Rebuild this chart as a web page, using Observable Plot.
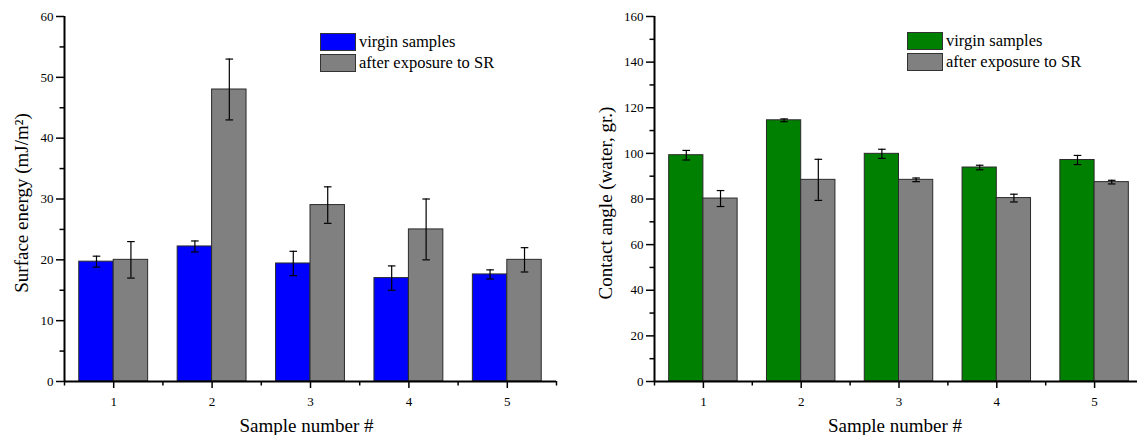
<!DOCTYPE html>
<html>
<head>
<meta charset="utf-8">
<script src="https://cdn.jsdelivr.net/npm/d3@7"></script>
<script src="https://cdn.jsdelivr.net/npm/@observablehq/plot@0.6"></script>
<style>
  html, body { margin: 0; padding: 0; background: white; }
  #wrap { position: relative; width: 1137px; height: 435px; overflow: hidden; background: white; font-family: "Liberation Serif", "Times New Roman", serif; }
  .panel { position: absolute; top: 0; }
  #wrap svg { max-width: none !important; font-family: "Liberation Serif", "Times New Roman", serif !important; font-size: 13px !important; }
  .legend { position: absolute; font-size: 16.5px; color: #000; }
  .legend .row { display: flex; align-items: center; height: 21px; }
  .legend .sw { width: 36px; height: 18px; border: 1px solid #333; box-sizing: border-box; margin-right: 3px; }
</style>
</head>
<body>
<div id="wrap">
  <div id="left" class="panel" style="left:0px; width:568px"></div>
  <div id="right" class="panel" style="left:568px; width:590px"></div>
  <div class="legend" style="left:320px; top:31px">
    <div class="row"><div class="sw" style="background:#0000ff"></div>virgin samples</div>
    <div class="row"><div class="sw" style="background:#808080"></div>after exposure to SR</div>
  </div>
  <div class="legend" style="left:907px; top:30px">
    <div class="row"><div class="sw" style="background:#008000"></div>virgin samples</div>
    <div class="row"><div class="sw" style="background:#808080"></div>after exposure to SR</div>
  </div>
</div>
<script>
const samples = [1, 2, 3, 4, 5];
const seriesNames = ["virgin samples", "after exposure to SR"];

const energyVirgin = [19.7, 22.2, 19.4, 17.0, 17.6];
const energyVirginErr = [0.9, 0.9, 2.0, 2.0, 0.75];
const energyExposed = [20.0, 48.0, 29.0, 25.0, 20.0];
const energyExposedErr = [3.0, 5.0, 3.0, 5.0, 2.0];

const angleVirgin = [99.2, 114.5, 99.8, 93.8, 97.1];
const angleVirginErr = [2.1, 0.6, 2.0, 1.0, 2.0];
const angleExposed = [80.2, 88.4, 88.4, 80.4, 87.4];
const angleExposedErr = [3.5, 9.0, 0.8, 1.7, 0.8];

const energyTicks = [0, 10, 20, 30, 40, 50, 60];
const energyMinor = [5, 15, 25, 35, 45, 55];
const angleTicks = [0, 20, 40, 60, 80, 100, 120, 140, 160];
const angleMinor = [10, 30, 50, 70, 90, 110, 130, 150];
const xMinor = [0.5, 1.5, 2.5, 3.5, 4.5, 5.5];

const barW = 0.35;

function buildRows(v, ve, e, ee) {
  const rows = [];
  samples.forEach((s, i) => {
    rows.push({sample: s, series: seriesNames[0], value: v[i], err: ve[i], off: -barW / 2});
    rows.push({sample: s, series: seriesNames[1], value: e[i], err: ee[i], off: barW / 2});
  });
  return rows;
}

const capSymbol = {
  draw(context, size) {
    const r = Math.sqrt(size / Math.PI);
    context.moveTo(-r, 0);
    context.lineTo(r, 0);
  }
};

function chart({rows, colors, yMax, ticks, minor, width, marginLeft, marginRight, yLabel, titleDx}) {
  return Plot.plot({
    width, height: 435,
    marginLeft, marginRight, marginTop: 16, marginBottom: 54,
    style: "font-family: 'Liberation Serif', 'Times New Roman', serif; font-size: 13px; color: #000; background: white; overflow: visible; max-width: none;",
    x: {domain: [0.5, 5.5], axis: null},
    y: {domain: [0, yMax], axis: null},
    color: {domain: seriesNames, range: colors},
    marks: [
      Plot.rectY(rows, {
        x1: d => d.sample + d.off - barW / 2,
        x2: d => d.sample + d.off + barW / 2,
        y1: 0, y2: "value",
        fill: "series", stroke: "#2a2a2a", strokeWidth: 1
      }),
      Plot.ruleX(rows, {x: d => d.sample + d.off, y1: d => d.value - d.err, y2: d => d.value + d.err, stroke: "#000", strokeWidth: 1.2}),
      Plot.dot(rows, {x: d => d.sample + d.off, y: d => d.value - d.err, symbol: capSymbol, r: 3.8, stroke: "#000", strokeWidth: 1.2, fill: "none"}),
      Plot.dot(rows, {x: d => d.sample + d.off, y: d => d.value + d.err, symbol: capSymbol, r: 3.8, stroke: "#000", strokeWidth: 1.2, fill: "none"}),
      Plot.axisY(ticks, {anchor: "left", tickSize: 8, tickPadding: 3, strokeWidth: 1.5, label: null, fontSize: 13, fill: "#000"}),
      Plot.axisY(minor, {anchor: "left", tickSize: 4.5, text: null, strokeWidth: 1.5, label: null}),
      Plot.axisX(samples, {anchor: "bottom", tickSize: 7, tickPadding: 8, strokeWidth: 1.5, label: null, fontSize: 13, fill: "#000"}),
      Plot.axisX(xMinor, {anchor: "bottom", tickSize: 4.5, text: null, strokeWidth: 1.5, label: null}),
      Plot.ruleX([0.5], {y1: 0, y2: yMax, stroke: "#000", strokeWidth: 2}),
      Plot.ruleY([0], {x1: 0.5, x2: 5.5, stroke: "#000", strokeWidth: 2}),
      Plot.text(["Sample number #"], {frameAnchor: "bottom", textAnchor: "middle", dy: 50, dx: titleDx, fontSize: 19, fill: "#000"}),
      Plot.text([yLabel.text], {frameAnchor: "left", textAnchor: "middle", rotate: -90, dx: yLabel.dx, dy: yLabel.dy, fontSize: 19, fill: "#000"})
    ]
  });
}

document.getElementById("left").appendChild(chart({
  rows: buildRows(energyVirgin, energyVirginErr, energyExposed, energyExposedErr),
  colors: ["#0000ff", "#808080"],
  yMax: 60, ticks: energyTicks, minor: energyMinor,
  width: 568, marginLeft: 64, marginRight: 12,
  yLabel: {text: "Surface energy (mJ/m²)", dx: -43, dy: 4},
  titleDx: -4
}));

document.getElementById("right").appendChild(chart({
  rows: buildRows(angleVirgin, angleVirginErr, angleExposed, angleExposedErr),
  colors: ["#008000", "#808080"],
  yMax: 160, ticks: angleTicks, minor: angleMinor,
  width: 590, marginLeft: 86, marginRight: 15,
  yLabel: {text: "Contact angle (water, gr.)", dx: -49, dy: 4},
  titleDx: -4
}));
</script>
</body>
</html>
